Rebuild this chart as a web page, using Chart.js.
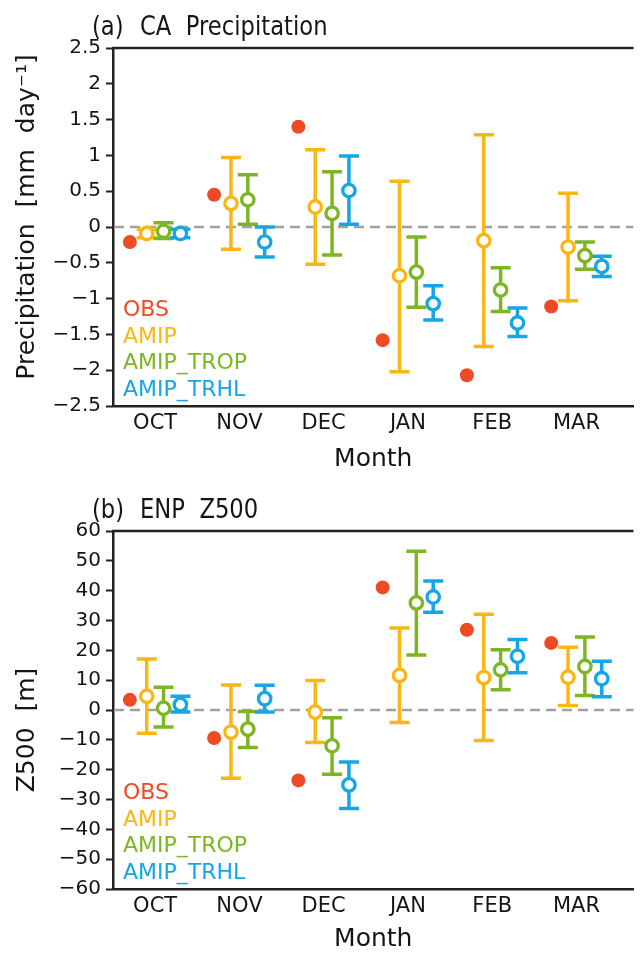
<!DOCTYPE html>
<html>
<head>
<meta charset="utf-8">
<script src="https://cdn.jsdelivr.net/npm/chart.js@4.4.1/dist/chart.umd.min.js"></script>
<style>
html,body{margin:0;padding:0;background:#fff;width:643px;height:956px;overflow:hidden}
.panel{position:absolute;left:0;width:643px;height:478px}
#pa{top:0}
#pb{top:478px}
</style>
</head>
<body>
<div class="panel" id="pa"><canvas id="ca"></canvas></div>
<div class="panel" id="pb"><canvas id="cb"></canvas></div>
<script>
// ---------- data ----------
const months = ['OCT','NOV','DEC','JAN','FEB','MAR'];
const seriesNames = ['OBS','AMIP','AMIP_TROP','AMIP_TRHL'];

const precipTicks = [-2.5,-2,-1.5,-1,-0.5,0,0.5,1,1.5,2,2.5];
const precipObs    = [-0.21, 0.45, 1.40, -1.58, -2.07, -1.11];
const precipAmip   = [-0.09, 0.33, 0.28, -0.68, -0.19, -0.28];
const precipAmipHi = [-0.03, 0.97, 1.08, 0.64, 1.29, 0.47];
const precipAmipLo = [-0.15, -0.31, -0.52, -2.02, -1.67, -1.03];
const precipTrop   = [-0.06, 0.38, 0.19, -0.63, -0.88, -0.40];
const precipTropHi = [0.06, 0.73, 0.77, -0.14, -0.57, -0.21];
const precipTropLo = [-0.16, 0.04, -0.39, -1.12, -1.18, -0.59];
const precipTrhl   = [-0.09, -0.21, 0.51, -1.07, -1.34, -0.55];
const precipTrhlHi = [-0.03, 0.00, 0.99, -0.82, -1.13, -0.41];
const precipTrhlLo = [-0.15, -0.42, 0.04, -1.30, -1.53, -0.69];

const z500Ticks = [-60,-50,-40,-30,-20,-10,0,10,20,30,40,50,60];
const z500Obs    = [3.4, -9.4, -23.6, 41.1, 26.9, 22.5];
const z500Amip   = [4.6, -7.4, -0.7, 11.6, 10.9, 11.0];
const z500AmipHi = [17.1, 8.4, 9.9, 27.5, 32.1, 21.0];
const z500AmipLo = [-7.8, -22.9, -10.9, -4.2, -10.2, 1.5];
const z500Trop   = [0.6, -6.4, -12.0, 35.9, 13.5, 14.6];
const z500TropHi = [7.6, -0.5, -2.6, 53.2, 20.2, 24.5];
const z500TropLo = [-5.7, -12.6, -21.5, 18.4, 6.8, 4.9];
const z500Trhl   = [1.8, 3.8, -25.1, 37.9, 18.0, 10.5];
const z500TrhlHi = [4.6, 8.3, -17.4, 43.2, 23.6, 16.3];
const z500TrhlLo = [-0.7, -0.7, -33.0, 32.8, 12.5, 4.4];

// ---------- styles ----------
const seriesColors = ['#ee4b24','#fcb614','#7cb623','#14a6e6'];
const inkColor = '#151515';
const FONT = "'DejaVu Sans', sans-serif";

function fmtTick(v){ return v < 0 ? '\u2212' + Math.abs(v) : String(v); }

const panelPlugin = {
  id: 'panelDeco',
  beforeDatasetsDraw(chart) {
    const {ctx, chartArea: a, scales: {x, y}} = chart;
    // zero dashed line
    ctx.save();
    ctx.strokeStyle = '#a0a0a0';
    ctx.lineWidth = 2.5;
    ctx.setLineDash([10, 6]);
    const y0 = y.getPixelForValue(0);
    ctx.beginPath(); ctx.moveTo(a.left + 1, y0); ctx.lineTo(a.right, y0); ctx.stroke();
    ctx.restore();
    // error bars
    ctx.save();
    ctx.lineWidth = 3.5;
    chart.data.datasets.forEach(ds => {
      if (!ds.hi) return;
      ctx.strokeStyle = ds.pointBorderColor;
      ds.data.forEach((pt, i) => {
        const px = x.getPixelForValue(pt.x);
        const yh = y.getPixelForValue(ds.hi[i]);
        const yl = y.getPixelForValue(ds.lo[i]);
        ctx.beginPath();
        ctx.moveTo(px, yh); ctx.lineTo(px, yl);
        ctx.moveTo(px - 10, yh); ctx.lineTo(px + 10, yh);
        ctx.moveTo(px - 10, yl); ctx.lineTo(px + 10, yl);
        ctx.stroke();
      });
    });
    ctx.restore();
  },
  afterDraw(chart) {
    const {ctx, chartArea: a} = chart;
    const p = chart.options.plugins.panelDeco;
    ctx.save();
    // top frame line
    ctx.strokeStyle = '#222';
    ctx.lineWidth = 2.5;
    ctx.beginPath(); ctx.moveTo(a.left - 1, a.top); ctx.lineTo(a.right, a.top); ctx.stroke();
    // panel title
    ctx.fillStyle = inkColor;
    ctx.textBaseline = 'alphabetic';
    ctx.textAlign = 'left';
    ctx.font = '27px ' + FONT;
    ctx.save(); ctx.translate(92, a.top - 13); ctx.scale(0.84, 1); ctx.fillText(p.tag, 0, 0); ctx.restore();
    ctx.save(); ctx.translate(140, a.top - 13); ctx.scale(0.84, 1); ctx.fillText(p.title, 0, 0); ctx.restore();
    // y axis title
    ctx.save();
    ctx.translate(27, (a.top + a.bottom) / 2 + p.yTitleShift);
    ctx.rotate(-Math.PI / 2);
    ctx.textAlign = 'center';
    ctx.textBaseline = 'middle';
    ctx.font = '25px ' + FONT;
    ctx.fillText(p.yTitle, 0, 0);
    ctx.restore();
    // legend (text only, coloured)
    ctx.font = '22px ' + FONT;
    ctx.textAlign = 'left';
    ctx.textBaseline = 'alphabetic';
    seriesNames.forEach((n, k) => {
      ctx.fillStyle = seriesColors[k];
      ctx.fillText(n, a.left + 10, a.bottom - 90 + 26.7 * k);
    });
    ctx.restore();
  }
};

function buildPanel(canvasId, p) {
  const offsets = [-0.3, -0.1, 0.1, 0.3];
  const datasets = [{
    label: seriesNames[0],
    data: months.map((m, i) => ({x: i + 0.5 + offsets[0], y: p.obs[i]})),
    pointRadius: 7,
    pointBackgroundColor: seriesColors[0],
    pointBorderWidth: 0,
    showLine: false
  }];
  p.models.forEach((md, k) => {
    datasets.push({
      label: seriesNames[k + 1],
      data: months.map((m, i) => ({x: i + 0.5 + offsets[k + 1], y: md.mean[i]})),
      hi: md.hi, lo: md.lo,
      pointRadius: 6.2,
      pointBorderWidth: 3.3,
      pointBorderColor: seriesColors[k + 1],
      pointBackgroundColor: '#ffffff',
      showLine: false
    });
  });
  return new Chart(document.getElementById(canvasId), {
    type: 'scatter',
    data: {datasets},
    plugins: [panelPlugin],
    options: {
      responsive: true,
      maintainAspectRatio: false,
      animation: false,
      devicePixelRatio: 1,
      layout: {padding: {top: p.padTop, left: 0, right: 0, bottom: 0}},
      plugins: {
        legend: {display: false},
        tooltip: {enabled: false},
        panelDeco: {tag: p.tag, title: p.title, yTitle: p.yTitle, yTitleShift: p.yTitleShift}
      },
      scales: {
        x: {
          type: 'linear',
          min: 0,
          max: 6.177,
          afterBuildTicks: s => { s.ticks = months.map((m, i) => ({value: i + 0.5})); },
          afterFit: s => { s.height = p.xH; },
          grid: {display: false, drawTicks: false},
          border: {display: true, width: 2.5, color: '#222'},
          ticks: {
            autoSkip: false, maxRotation: 0, padding: 5,
            color: inkColor, font: {family: FONT, size: 21},
            callback: (v, idx) => months[idx]
          },
          title: {display: true, text: 'Month', color: inkColor,
                  font: {family: FONT, size: 25}, padding: {top: 0, bottom: p.xTitlePad}}
        },
        y: {
          type: 'linear',
          min: p.yTicks[0],
          max: p.yTicks[p.yTicks.length - 1],
          afterBuildTicks: s => { s.ticks = p.yTicks.map(v => ({value: v})); },
          afterFit: s => { s.width = 113; },
          grid: {display: true, drawOnChartArea: false, drawTicks: true, tickLength: 7,
                 tickWidth: 2, tickColor: '#222'},
          border: {display: true, width: 2.5, color: '#222'},
          ticks: {
            autoSkip: false, padding: 5,
            color: inkColor, font: {family: FONT, size: 20},
            callback: v => fmtTick(v)
          }
        }
      }
    }
  });
}

buildPanel('ca', {
  tag: '(a)', title: 'CA  Precipitation',
  yTitle: 'Precipitation  [mm  day\u207B\u00B9]', yTitleShift: -10,
  yTicks: precipTicks, obs: precipObs,
  models: [
    {mean: precipAmip, hi: precipAmipHi, lo: precipAmipLo},
    {mean: precipTrop, hi: precipTropHi, lo: precipTropLo},
    {mean: precipTrhl, hi: precipTrhlHi, lo: precipTrhlLo}
  ],
  padTop: 48, xH: 72, xTitlePad: 4
});

buildPanel('cb', {
  tag: '(b)', title: 'ENP  Z500',
  yTitle: 'Z500  [m]', yTitleShift: 20,
  yTicks: z500Ticks, obs: z500Obs,
  models: [
    {mean: z500Amip, hi: z500AmipHi, lo: z500AmipLo},
    {mean: z500Trop, hi: z500TropHi, lo: z500TropLo},
    {mean: z500Trhl, hi: z500TrhlHi, lo: z500TrhlLo}
  ],
  padTop: 53, xH: 67, xTitlePad: 2
});
</script>
</body>
</html>
